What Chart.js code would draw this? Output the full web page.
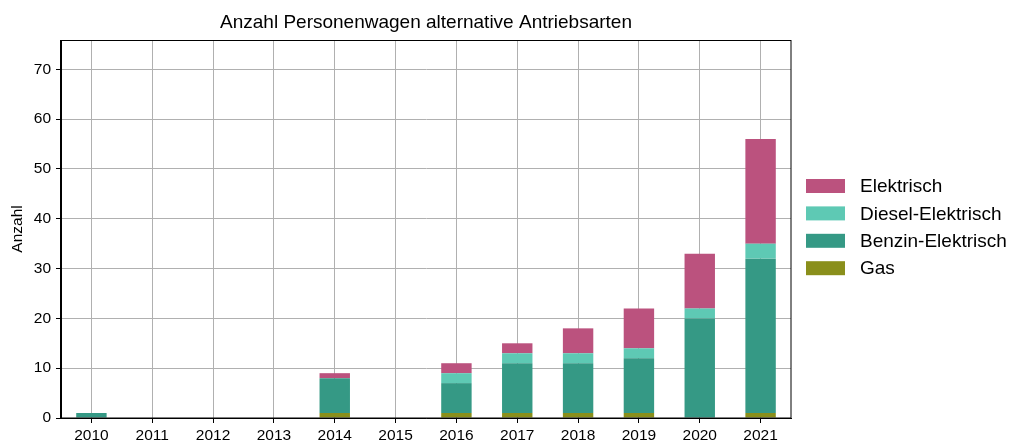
<!DOCTYPE html>
<html>
<head>
<meta charset="utf-8">
<script src="https://cdn.jsdelivr.net/npm/chart.js@4"></script>
<style>
  html, body { margin: 0; padding: 0; background: #ffffff; }
  #wrap { width: 1011px; height: 444px; }
</style>
</head>
<body>
<div id="wrap"><canvas id="c" width="1011" height="444"></canvas></div>
<script>
const years = ['2010','2011','2012','2013','2014','2015','2016','2017','2018','2019','2020','2021'];
const gas        = [0,0,0,0,1,0,1,1,1,1,0,1];
const benzin     = [1,0,0,0,7,0,6,10,10,11,20,31];
const diesel     = [0,0,0,0,0,0,2,2,2,2,2,3];
const elektrisch = [0,0,0,0,1,0,2,2,5,8,11,21];
const seriesNames = ['Gas','Benzin-Elektrisch','Diesel-Elektrisch','Elektrisch'];
const seriesColors = ['#8a8f1b','#359985','#5ec9b4','#bb527e'];
const yTicks = [0,10,20,30,40,50,60,70];
const yMax = 75.9;
const chartTitle = 'Anzahl Personenwagen alternative Antriebsarten';

const FONT = '"Liberation Sans", Arial, Helvetica, sans-serif';

const frameTitleLegend = {
  id: 'frameTitleLegend',
  afterDatasetsDraw(chart) {
    const {ctx, chartArea: a} = chart;
    ctx.save();
    ctx.strokeStyle = '#000000';
    ctx.lineWidth = 1;
    ctx.strokeRect(Math.round(a.left) - 0.5, Math.round(a.top) + 0.5, Math.round(a.right - a.left) + 0.5, Math.round(a.bottom - a.top) - 0.5);
    ctx.restore();
  },
  afterDraw(chart) {
    const {ctx, chartArea: a} = chart;
    ctx.save();
    ctx.fillStyle = '#000000';
    ctx.font = '19px ' + FONT;
    ctx.textAlign = 'center';
    ctx.textBaseline = 'middle';
    ctx.fillText(chartTitle, (a.left + a.right) / 2, 23);

    const ds = chart.data.datasets.slice().reverse();
    ctx.font = '19px ' + FONT;
    ctx.textAlign = 'left';
    ds.forEach((d, i) => {
      const cy = 186 + i * 27.4;
      ctx.fillStyle = d.backgroundColor;
      ctx.fillRect(806, cy - 7, 39, 14);
      ctx.fillStyle = '#000000';
      ctx.fillText(d.label, 860, cy + 1);
    });
    ctx.restore();
  }
};

const seriesData = [gas, benzin, diesel, elektrisch];

new Chart(document.getElementById('c'), {
  type: 'bar',
  data: {
    labels: years,
    datasets: seriesNames.map((n, i) => ({
      label: n,
      data: seriesData[i],
      backgroundColor: seriesColors[i],
      borderWidth: 0,
      barPercentage: 0.5,
      categoryPercentage: 1.0
    }))
  },
  options: {
    responsive: false,
    animation: false,
    devicePixelRatio: 1,
    layout: { padding: { left: 0, right: 220, top: 40, bottom: 0 } },
    plugins: {
      legend: { display: false },
      tooltip: { enabled: false },
      title: { display: false }
    },
    scales: {
      x: {
        stacked: true,
        offset: true,
        grid: { offset: false, color: '#b0b0b0', lineWidth: 1, tickColor: '#000000', tickLength: 5, drawTicks: true },
        border: { display: true, color: '#000000', width: 1 },
        ticks: { color: '#000000', font: { family: FONT, size: 15.5 }, padding: 3, autoSkip: false, maxRotation: 0 },
        afterFit(s) { s.height = 26; }
      },
      y: {
        stacked: true,
        min: 0,
        max: yMax,
        grid: { color: '#b0b0b0', lineWidth: 1, tickColor: '#000000', tickLength: 5 },
        border: { display: true, color: '#000000', width: 1 },
        ticks: { color: '#000000', font: { family: FONT, size: 15.5 }, padding: 5, stepSize: 10 },
        afterBuildTicks(s) { s.ticks = yTicks.map(v => ({ value: v })); },
        title: { display: true, text: 'Anzahl', color: '#000000', font: { family: FONT, size: 15.5 }, padding: { top: 8, bottom: 0 } },
        afterFit(s) { s.width = 61; }
      }
    }
  },
  plugins: [frameTitleLegend]
});
</script>
</body>
</html>
